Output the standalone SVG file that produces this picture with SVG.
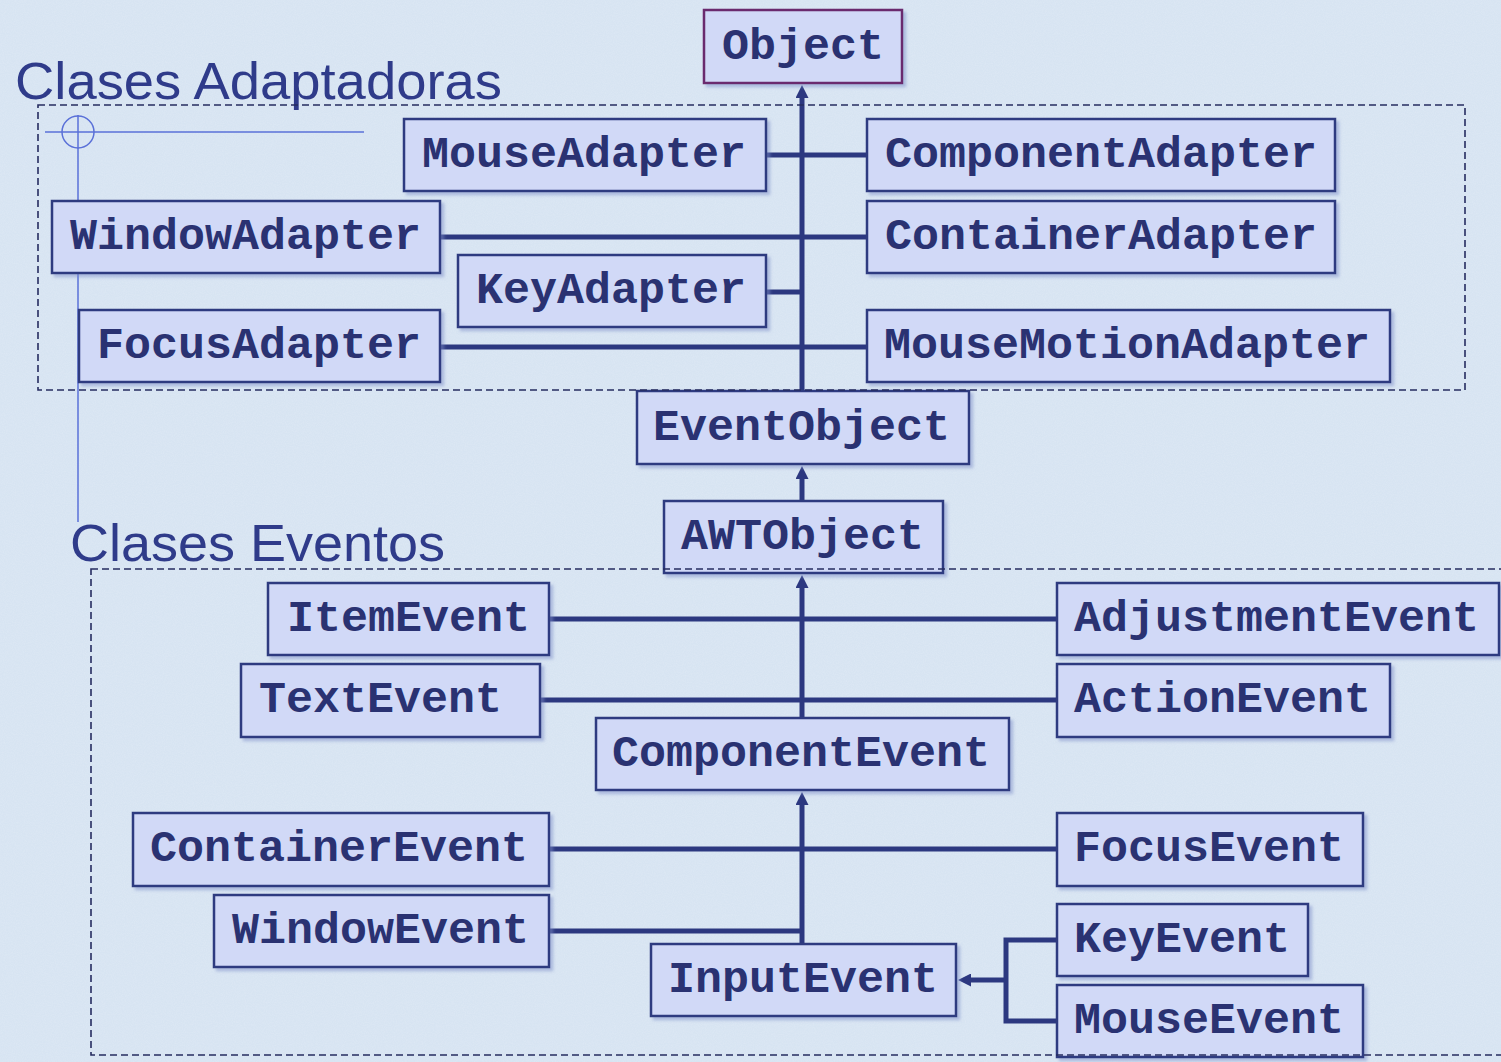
<svg xmlns="http://www.w3.org/2000/svg" width="1501" height="1062" viewBox="0 0 1501 1062">
<style>
.bg{fill:#d7e4f2}
.box{fill:#d1d9f7;stroke:#2e3a80;stroke-width:2.5;filter:url(#sh)}
.obj{stroke:#6a2a6e}
.lbl{font-family:"Liberation Mono","Courier New",monospace;font-weight:bold;font-size:45px;fill:#2a3272}
.title{font-family:"Liberation Sans",Arial,sans-serif;font-size:52px;fill:#2f3b8a}
.frame{fill:none;stroke:#262c60;stroke-width:1.6;stroke-dasharray:7 4}
.con{fill:none;stroke:#2c3880;stroke-width:5}
.arr{marker-end:url(#ah)}
.deco{fill:none;stroke:#5a70d8;stroke-width:1.5}
</style>
<defs>
<marker id="ah" viewBox="0 0 10 10" refX="0" refY="5" markerUnits="userSpaceOnUse" markerWidth="14" markerHeight="13" orient="auto">
<path d="M0,0 L10,5 L0,10 z" fill="#2c3880"/>
</marker>
<filter id="sh" x="-5%" y="-10%" width="115%" height="130%">
<feDropShadow dx="3" dy="3" stdDeviation="1.5" flood-color="#7d8cc8" flood-opacity="0.5"/>
</filter>
<filter id="noise" x="0" y="0" width="100%" height="100%">
<feTurbulence type="fractalNoise" baseFrequency="0.9" numOctaves="2" seed="3" result="n"/>
<feColorMatrix type="matrix" values="0 0 0 0 1  0 0 0 0 1  0 0 0 0 1  0 0 0 0.35 -0.1" in="n"/>
</filter>
</defs>
<rect class="bg" x="0" y="0" width="1501" height="1062"/>
<rect x="0" y="0" width="1501" height="1062" filter="url(#noise)" opacity="0.6"/>

<g id="decoration">
<line class="deco" x1="45" y1="132" x2="364" y2="132"/>
<line class="deco" x1="78" y1="115" x2="78" y2="522"/>
<circle class="deco" cx="78" cy="132" r="16"/>
</g>

<g id="titles">
<text class="title" x="15" y="99" textLength="487" lengthAdjust="spacingAndGlyphs">Clases Adaptadoras</text>
<text class="title" x="70" y="561" textLength="375" lengthAdjust="spacingAndGlyphs">Clases Eventos</text>
</g>

<g id="connectors">
<line class="con arr" x1="802" y1="390" x2="802" y2="98"/>
<line class="con" x1="766" y1="155" x2="867" y2="155"/>
<line class="con" x1="440" y1="237" x2="867" y2="237"/>
<line class="con" x1="766" y1="292" x2="802" y2="292"/>
<line class="con" x1="440" y1="347" x2="867" y2="347"/>
<line class="con arr" x1="802" y1="501" x2="802" y2="479"/>
<line class="con arr" x1="802" y1="718" x2="802" y2="588"/>
<line class="con" x1="549" y1="619" x2="1057" y2="619"/>
<line class="con" x1="540" y1="700" x2="1057" y2="700"/>
<line class="con arr" x1="802" y1="944" x2="802" y2="805"/>
<line class="con" x1="549" y1="849" x2="1057" y2="849"/>
<polyline class="con" points="549,931 802,931"/>
<polyline class="con" points="1057,940 1006,940 1006,1021 1057,1021"/>
<line class="con arr" x1="1006" y1="980" x2="971" y2="980"/>
</g>

<g id="n-object"><rect class="box obj" x="704" y="10" width="198" height="73"/><text class="lbl" x="722" y="59">Object</text></g>
<g id="n-mouseadapter"><rect class="box" x="404" y="119" width="362" height="72"/><text class="lbl" x="422" y="167">MouseAdapter</text></g>
<g id="n-componentadapter"><rect class="box" x="867" y="119" width="468" height="72"/><text class="lbl" x="885" y="167">ComponentAdapter</text></g>
<g id="n-windowadapter"><rect class="box" x="52" y="201" width="388" height="72"/><text class="lbl" x="70" y="249">WindowAdapter</text></g>
<g id="n-containeradapter"><rect class="box" x="867" y="201" width="468" height="72"/><text class="lbl" x="885" y="249">ContainerAdapter</text></g>
<g id="n-keyadapter"><rect class="box" x="458" y="255" width="308" height="72"/><text class="lbl" x="476" y="303">KeyAdapter</text></g>
<g id="n-focusadapter"><rect class="box" x="79" y="310" width="361" height="72"/><text class="lbl" x="97" y="358">FocusAdapter</text></g>
<g id="n-mousemotionadapter"><rect class="box" x="867" y="310" width="523" height="72"/><text class="lbl" x="884" y="358">MouseMotionAdapter</text></g>
<g id="n-eventobject"><rect class="box" x="637" y="391" width="332" height="73"/><text class="lbl" x="653" y="440">EventObject</text></g>
<g id="n-awtobject"><rect class="box" x="664" y="501" width="279" height="72"/><text class="lbl" x="681" y="549">AWTObject</text></g>
<g id="n-itemevent"><rect class="box" x="268" y="583" width="281" height="72"/><text class="lbl" x="287" y="631">ItemEvent</text></g>
<g id="n-adjustmentevent"><rect class="box" x="1057" y="583" width="442" height="72"/><text class="lbl" x="1074" y="631">AdjustmentEvent</text></g>
<g id="n-textevent"><rect class="box" x="241" y="664" width="299" height="73"/><text class="lbl" x="259" y="712">TextEvent</text></g>
<g id="n-actionevent"><rect class="box" x="1057" y="664" width="333" height="73"/><text class="lbl" x="1074" y="712">ActionEvent</text></g>
<g id="n-componentevent"><rect class="box" x="596" y="718" width="413" height="72"/><text class="lbl" x="612" y="766">ComponentEvent</text></g>
<g id="n-containerevent"><rect class="box" x="133" y="813" width="416" height="73"/><text class="lbl" x="150" y="861">ContainerEvent</text></g>
<g id="n-focusevent"><rect class="box" x="1057" y="813" width="306" height="73"/><text class="lbl" x="1074" y="861">FocusEvent</text></g>
<g id="n-windowevent"><rect class="box" x="214" y="895" width="335" height="72"/><text class="lbl" x="232" y="943">WindowEvent</text></g>
<g id="n-keyevent"><rect class="box" x="1057" y="904" width="251" height="72"/><text class="lbl" x="1074" y="952">KeyEvent</text></g>
<g id="n-inputevent"><rect class="box" x="651" y="944" width="305" height="72"/><text class="lbl" x="668" y="992">InputEvent</text></g>
<g id="n-mouseevent"><rect class="box" x="1057" y="985" width="306" height="72"/><text class="lbl" x="1074" y="1033">MouseEvent</text></g>

<g id="frames">
<rect class="frame" x="38" y="105" width="1427" height="285"/>
<rect class="frame" x="91" y="569" width="1420" height="486"/>
</g>
</svg>
